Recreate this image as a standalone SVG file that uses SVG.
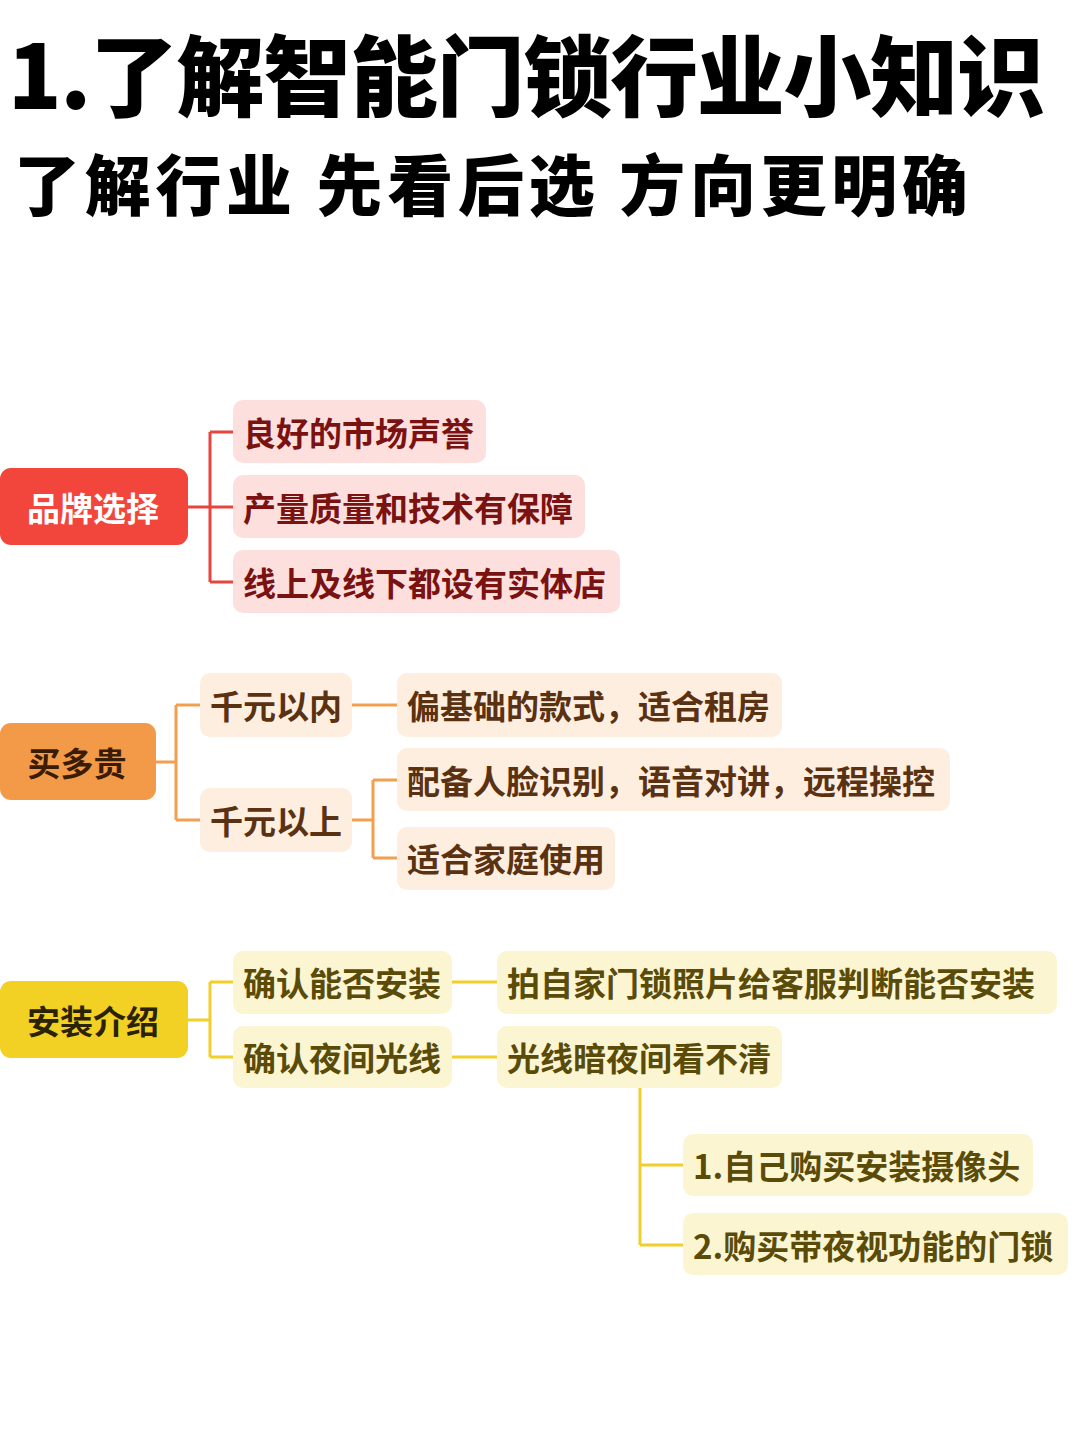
<svg xmlns="http://www.w3.org/2000/svg" width="1080" height="1440" viewBox="0 0 1080 1440">
<style>
text{font-family:"Noto Sans CJK SC","Noto Sans",sans-serif;font-weight:700;dominant-baseline:central}
.title{font-weight:900;fill:#000}
.root{font-size:33px}
.lbl{font-size:33px}
.r-line{stroke:#e8463c;stroke-width:3;fill:none}
.o-line{stroke:#f2a050;stroke-width:3;fill:none}
.y-line{stroke:#f0cf2a;stroke-width:3;fill:none}
.r-box{fill:#fde0de}
.o-box{fill:#fdeedf}
.y-box{fill:#fcf5d2}
.r-txt{fill:#7a1212}
.o-txt{fill:#5a3212}
.y-txt{fill:#5a4c08}
</style>
<rect width="1080" height="1440" fill="#ffffff"/>
<text class="title" x="8" y="70" font-size="88" textLength="1037" lengthAdjust="spacing">1.了解智能门锁行业小知识</text>
<text class="title" x="14" y="181" font-size="66" textLength="954" lengthAdjust="spacing">了解行业 先看后选 方向更明确</text>

<g id="connectors">
<path class="r-line" d="M188 507H210M210 432V582M210 432H233M210 507H233M210 582H233"/>
<path class="o-line" d="M156 762H176M176 705V820M176 705H200M176 820H200M352 705H397M352 820H373M373 780V858M373 780H397M373 858H397"/>
<path class="y-line" d="M188 1020H210M210 982V1057M210 982H233M210 1057H233M452 982H497M452 1057H497M640 1088V1245M640 1165H683M640 1245H683"/>
</g>

<g id="n-brand"><rect x="0" y="468" width="188" height="77" rx="11" fill="#f2453c"/><text class="root" x="93" y="507" text-anchor="middle" fill="#ffffff">品牌选择</text></g>
<g id="n-b1"><rect class="r-box" x="233" y="400" width="253" height="63" rx="10"/><text class="lbl r-txt" x="243" y="432">良好的市场声誉</text></g>
<g id="n-b2"><rect class="r-box" x="233" y="475" width="352" height="63" rx="10"/><text class="lbl r-txt" x="243" y="507">产量质量和技术有保障</text></g>
<g id="n-b3"><rect class="r-box" x="233" y="550" width="387" height="63" rx="10"/><text class="lbl r-txt" x="243" y="582">线上及线下都设有实体店</text></g>

<g id="n-price"><rect x="0" y="723" width="156" height="77" rx="11" fill="#f39a48"/><text class="root" x="77" y="762" text-anchor="middle" fill="#3a1c04">买多贵</text></g>
<g id="n-p1"><rect class="o-box" x="200" y="673" width="152" height="64" rx="10"/><text class="lbl o-txt" x="210" y="705">千元以内</text></g>
<g id="n-p2"><rect class="o-box" x="200" y="788" width="152" height="64" rx="10"/><text class="lbl o-txt" x="210" y="820">千元以上</text></g>
<g id="n-p1a"><rect class="o-box" x="397" y="673" width="385" height="64" rx="10"/><text class="lbl o-txt" x="407" y="705">偏基础的款式，适合租房</text></g>
<g id="n-p2a"><rect class="o-box" x="397" y="748" width="553" height="63" rx="10"/><text class="lbl o-txt" x="407" y="780">配备人脸识别，语音对讲，远程操控</text></g>
<g id="n-p2b"><rect class="o-box" x="397" y="827" width="218" height="63" rx="10"/><text class="lbl o-txt" x="407" y="858">适合家庭使用</text></g>

<g id="n-install"><rect x="0" y="981" width="188" height="77" rx="11" fill="#f2d024"/><text class="root" x="93" y="1020" text-anchor="middle" fill="#2a2200">安装介绍</text></g>
<g id="n-i1"><rect class="y-box" x="233" y="951" width="219" height="63" rx="10"/><text class="lbl y-txt" x="243" y="982">确认能否安装</text></g>
<g id="n-i2"><rect class="y-box" x="233" y="1026" width="219" height="62" rx="10"/><text class="lbl y-txt" x="243" y="1057">确认夜间光线</text></g>
<g id="n-i1a"><rect class="y-box" x="497" y="951" width="560" height="63" rx="10"/><text class="lbl y-txt" x="507" y="982">拍自家门锁照片给客服判断能否安装</text></g>
<g id="n-i2a"><rect class="y-box" x="497" y="1026" width="285" height="62" rx="10"/><text class="lbl y-txt" x="507" y="1057">光线暗夜间看不清</text></g>
<g id="n-i2a1"><rect class="y-box" x="683" y="1134" width="350" height="62" rx="10"/><text class="lbl y-txt" x="693" y="1165">1.自己购买安装摄像头</text></g>
<g id="n-i2a2"><rect class="y-box" x="683" y="1213" width="385" height="62" rx="10"/><text class="lbl y-txt" x="693" y="1245">2.购买带夜视功能的门锁</text></g>
</svg>
